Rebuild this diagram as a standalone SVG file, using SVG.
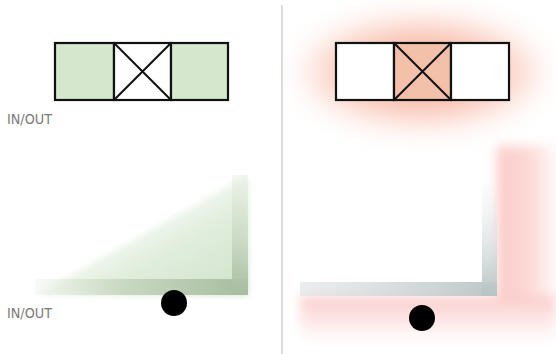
<svg xmlns="http://www.w3.org/2000/svg" width="556" height="354" viewBox="0 0 556 354">
<style>
.cell{stroke:#111;stroke-width:2.2;}
.x{stroke:#111;stroke-width:2;fill:none;}
.lbl{font-family:"Liberation Sans Narrow","DejaVu Sans Condensed","Liberation Sans",sans-serif;font-size:14px;fill:#7a7a7a;}
.dot{fill:#000;}
</style>
<defs>
<filter id="blur14" x="-50%" y="-80%" width="200%" height="260%"><feGaussianBlur stdDeviation="14"/></filter>
<filter id="blur6" x="-50%" y="-50%" width="200%" height="200%"><feGaussianBlur stdDeviation="6"/></filter>
<filter id="blur3" x="-20%" y="-20%" width="140%" height="140%"><feGaussianBlur stdDeviation="3"/></filter>
<linearGradient id="gTri" x1="0.3" y1="0.3" x2="1" y2="1">
<stop offset="0" stop-color="#e6f0e2" stop-opacity="0"/>
<stop offset="0.45" stop-color="#dcebd8" stop-opacity="0.85"/>
<stop offset="1" stop-color="#cde2c9"/>
</linearGradient>
<linearGradient id="gHbar" x1="0" y1="0" x2="1" y2="0">
<stop offset="0" stop-color="#e8efe3" stop-opacity="0.3"/>
<stop offset="0.4" stop-color="#c9d9c3"/>
<stop offset="1" stop-color="#a7bd9e"/>
</linearGradient>
<linearGradient id="gVbar" x1="0" y1="0" x2="0" y2="1">
<stop offset="0" stop-color="#e8f1e4" stop-opacity="0.5"/>
<stop offset="1" stop-color="#a7bd9e"/>
</linearGradient>
<linearGradient id="rHbar" x1="0" y1="0" x2="1" y2="0">
<stop offset="0" stop-color="#dde3e3" stop-opacity="0.6"/>
<stop offset="1" stop-color="#bcc6c6"/>
</linearGradient>
<linearGradient id="rVbar" x1="0" y1="0" x2="0" y2="1">
<stop offset="0" stop-color="#f0f0f4" stop-opacity="0.2"/>
<stop offset="1" stop-color="#b8c4c4"/>
</linearGradient>
<linearGradient id="pinkV" x1="0" y1="0" x2="1" y2="0">
<stop offset="0" stop-color="#fac9c8"/>
<stop offset="0.6" stop-color="#fcdcd8"/>
<stop offset="1" stop-color="#fdeeea" stop-opacity="0.5"/>
</linearGradient>
<linearGradient id="pinkH" x1="0" y1="0" x2="0" y2="1">
<stop offset="0" stop-color="#fac9c8"/>
<stop offset="0.6" stop-color="#fde2e0" stop-opacity="0.6"/>
<stop offset="1" stop-color="#fff" stop-opacity="0"/>
</linearGradient>
<radialGradient id="glow" cx="0.5" cy="0.5" r="0.5">
<stop offset="0.4" stop-color="#f7b8a6"/>
<stop offset="0.75" stop-color="#fbcfc2" stop-opacity="0.8"/>
<stop offset="1" stop-color="#fde2d8" stop-opacity="0"/>
</radialGradient>
</defs>
<rect width="556" height="354" fill="#fff"/>

<g id="divider"><line x1="282" y1="5" x2="282" y2="354" stroke="#dcdcdc" stroke-width="2"/></g>

<g id="left-plan">
<rect class="cell" x="55" y="43" width="59" height="57" fill="#d5e7cc"/>
<rect class="cell" x="114" y="43" width="57" height="57" fill="#fff"/>
<rect class="cell" x="171" y="43" width="57" height="57" fill="#d5e7cc"/>
<path class="x" d="M114 43 L171 100 M171 43 L114 100"/>
</g>
<g id="label-top"><text class="lbl" x="7" y="124" textLength="45" lengthAdjust="spacingAndGlyphs">IN/OUT</text></g>

<g id="left-corner">
<polygon points="36,295 248,175 248,295" fill="url(#gTri)" filter="url(#blur3)"/>
<rect x="35" y="279" width="213" height="16" fill="url(#gHbar)"/>
<rect x="232" y="175" width="16" height="120" fill="url(#gVbar)"/>
</g>
<g id="left-dot"><circle class="dot" cx="174" cy="303" r="13"/></g>
<g id="label-bottom"><text class="lbl" x="7" y="318" textLength="45" lengthAdjust="spacingAndGlyphs">IN/OUT</text></g>

<g id="right-plan">
<ellipse cx="422" cy="72" rx="132" ry="62" fill="url(#glow)" filter="url(#blur14)"/>
<rect class="cell" x="336" y="43" width="58" height="57" fill="#fff"/>
<rect class="cell" x="394" y="43" width="57" height="57" fill="#f3c0a9"/>
<rect class="cell" x="451" y="43" width="58" height="57" fill="#fff"/>
<path class="x" d="M394 43 L451 100 M451 43 L394 100"/>
</g>

<g id="right-corner">
<g filter="url(#blur6)">
<rect x="497" y="146" width="59" height="150" fill="url(#pinkV)"/>
<rect x="300" y="296" width="256" height="52" fill="url(#pinkH)"/>
</g>
<rect x="300" y="282" width="197" height="14" fill="url(#rHbar)"/>
<rect x="482" y="185" width="15" height="111" fill="url(#rVbar)"/>
</g>
<g id="right-dot"><circle class="dot" cx="422" cy="318" r="13"/></g>
</svg>
